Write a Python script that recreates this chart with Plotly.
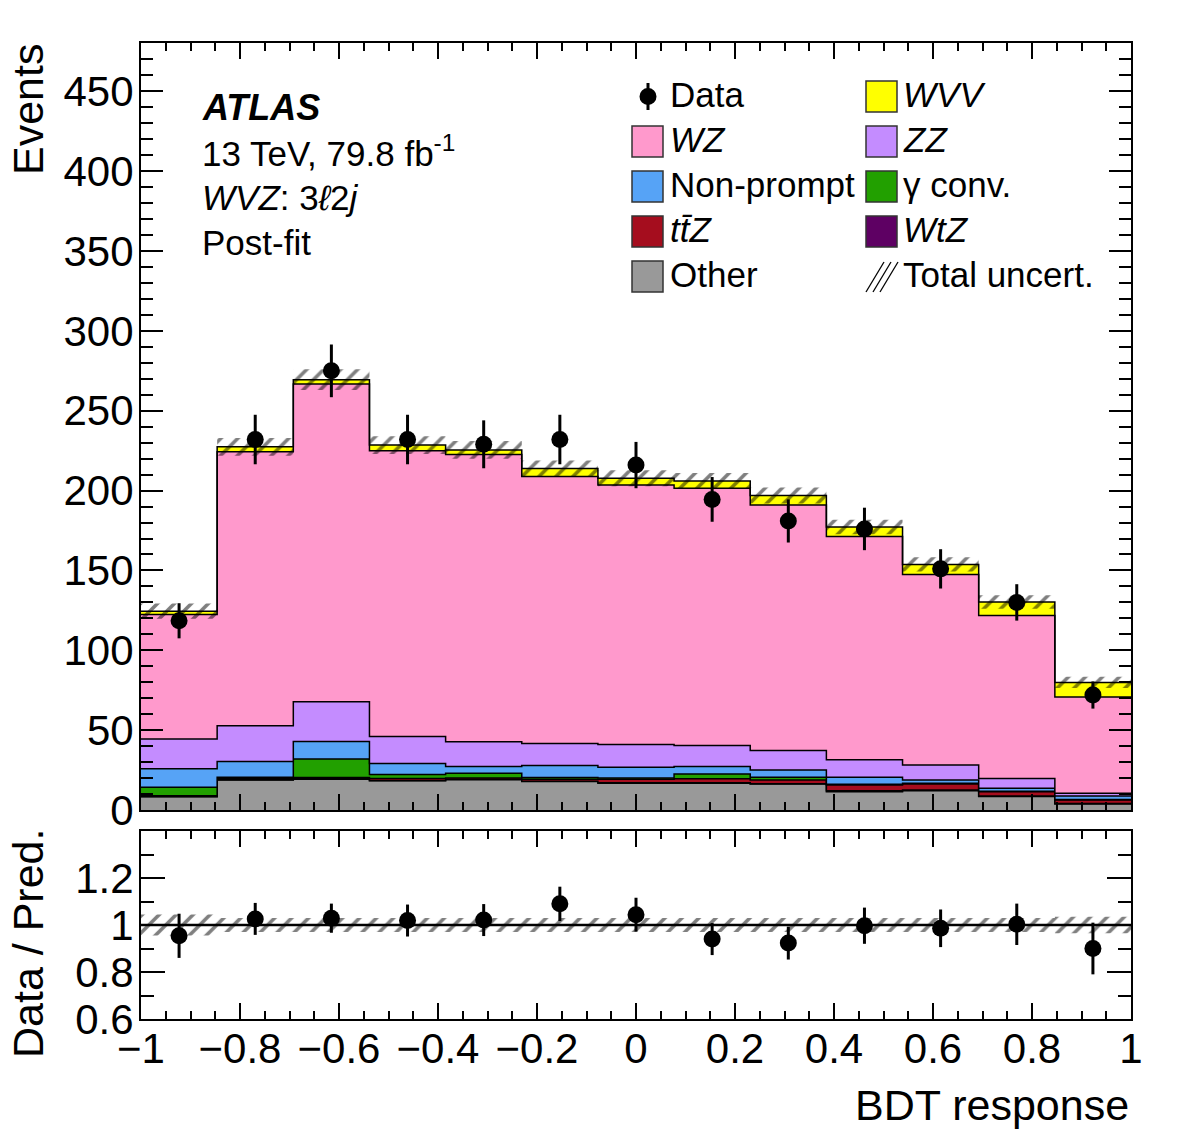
import numpy as np
import plotly.graph_objects as go

# ---------------- data ----------------
bin_edges = np.linspace(-1.0, 1.0, 14)
bin_centers = 0.5 * (bin_edges[:-1] + bin_edges[1:])

other     = [8.3, 18.8, 19.3, 18.3, 19.0, 17.8, 16.8, 16.8, 16.3, 11.5, 12.1, 8.4, 3.8]
wtz       = [0.2, 0.2, 0.2, 0.2, 0.2, 0.2, 0.2, 0.2, 0.2, 0.5, 0.5, 0.4, 0.3]
ttz       = [0.4, 0.8, 0.8, 1.2, 0.9, 1.3, 2.2, 2.5, 2.3, 3.7, 3.7, 2.7, 2.2]
gamma_conv= [5.3, 0.7, 11.7, 2.5, 2.9, 1.0, 0.8, 3.1, 1.7, 0.5, 0.4, 0.3, 0.2]
nonprompt = [11.7, 9.8, 10.9, 6.9, 4.2, 7.5, 6.8, 4.6, 4.6, 4.3, 2.1, 1.8, 2.3]
zz        = [18.5, 22.4, 24.9, 16.9, 15.5, 13.8, 14.2, 13.2, 12.2, 10.9, 9.4, 6.1, 1.7]
wz        = [78.0, 171.6, 199.0, 178.9, 179.9, 167.2, 162.5, 161.1, 153.7, 139.8, 119.3, 102.1, 60.2]
wvv       = [2.1, 3.1, 2.7, 3.6, 2.9, 5.0, 4.3, 4.5, 5.9, 6.0, 6.3, 8.5, 9.2]

total_unc = [4.8, 5.5, 6.5, 5.5, 5.5, 5.0, 5.0, 5.0, 5.0, 4.5, 4.5, 4.2, 3.5]

data      = [118.5, 232.0, 275.0, 232.0, 229.0, 232.0, 216.0, 194.5, 181.0, 176.0, 151.0, 130.0, 72.0]
data_err  = [11.0, 15.5, 16.5, 15.5, 15.0, 15.5, 14.5, 14.0, 13.5, 13.3, 12.3, 11.4, 8.5]

ratio     = [0.954, 1.026, 1.029, 1.019, 1.021, 1.090, 1.044, 0.940, 0.923, 0.997, 0.986, 1.003, 0.900]
ratio_err = [0.094, 0.068, 0.062, 0.068, 0.068, 0.073, 0.072, 0.068, 0.070, 0.077, 0.080, 0.088, 0.110]
ratio_unc = [0.045, 0.030, 0.030, 0.030, 0.030, 0.030, 0.030, 0.030, 0.030, 0.030, 0.030, 0.030, 0.035]

components = [
    ("Other", other, "#999999"),
    ("WtZ", wtz, "#5e0063"),
    ("ttZ", ttz, "#a50d1e"),
    ("gamma conv.", gamma_conv, "#22a000"),
    ("Non-prompt", nonprompt, "#56a3f6"),
    ("ZZ", zz, "#c48cff"),
    ("WZ", wz, "#ff99cc"),
    ("WVV", wvv, "#ffff00"),
]

y_tickvals = [0, 50, 100, 150, 200, 250, 300, 350, 400, 450]
r_tickvals = [0.6, 0.8, 1.0, 1.2]
r_ticktext = ["0.6", "0.8", "1", "1.2"]
x_tickvals = [-1, -0.8, -0.6, -0.4, -0.2, 0, 0.2, 0.4, 0.6, 0.8, 1]

FONT = "Liberation Sans, Arial, Helvetica, sans-serif"

# ---------------- geometry helpers (pixel -> paper) ----------------
L, R, T, B = 141, 1131, 43, 1019
def px(x):
    return (x - L) / (R - L)
def py(y):
    return (B - y) / (B - T)

def step(vals):
    v = list(vals)
    return v + [v[-1]]

HATCH = dict(shape="/", fgcolor="black", bgcolor="rgba(0,0,0,0)", size=12, solidity=0.3, fillmode="overlay")

fig = go.Figure()

# stacked step histograms
cum = np.zeros(len(bin_centers))
first = True
for name, vals, col in components:
    cum = cum + np.array(vals)
    fig.add_trace(go.Scatter(
        x=bin_edges, y=step(cum), mode="lines", line=dict(shape="hv", color="black", width=1.5),
        fill="tozeroy" if first else "tonexty", fillcolor=col, name=name,
        xaxis="x", yaxis="y", showlegend=False, hoverinfo="skip"))
    first = False

total = cum
unc = np.array(total_unc)
fig.add_trace(go.Scatter(
    x=bin_edges, y=step(total - unc), mode="lines", line=dict(shape="hv", width=0, color="rgba(0,0,0,0)"),
    xaxis="x", yaxis="y", showlegend=False, hoverinfo="skip"))
fig.add_trace(go.Scatter(
    x=bin_edges, y=step(total + unc), mode="lines", line=dict(shape="hv", width=0, color="rgba(0,0,0,0)"),
    fill="tonexty", fillcolor="rgba(0,0,0,0)", fillpattern=HATCH,
    xaxis="x", yaxis="y", showlegend=False, hoverinfo="skip"))

# data
fig.add_trace(go.Scatter(
    x=bin_centers, y=data, mode="markers",
    marker=dict(color="black", size=17),
    error_y=dict(type="data", array=data_err, color="black", thickness=3, width=0),
    xaxis="x", yaxis="y", showlegend=False, hoverinfo="skip"))

# ratio panel
runc = np.array(ratio_unc)
fig.add_trace(go.Scatter(
    x=bin_edges, y=step(1 - runc), mode="lines", line=dict(shape="hv", width=0, color="rgba(0,0,0,0)"),
    xaxis="x2", yaxis="y2", showlegend=False, hoverinfo="skip"))
fig.add_trace(go.Scatter(
    x=bin_edges, y=step(1 + runc), mode="lines", line=dict(shape="hv", width=0, color="rgba(0,0,0,0)"),
    fill="tonexty", fillcolor="rgba(0,0,0,0)", fillpattern=HATCH,
    xaxis="x2", yaxis="y2", showlegend=False, hoverinfo="skip"))
fig.add_trace(go.Scatter(
    x=[-1, 1], y=[1, 1], mode="lines", line=dict(color="black", width=2.5),
    xaxis="x2", yaxis="y2", showlegend=False, hoverinfo="skip"))
fig.add_trace(go.Scatter(
    x=bin_centers, y=ratio, mode="markers",
    marker=dict(color="black", size=17),
    error_y=dict(type="data", array=ratio_err, color="black", thickness=3, width=0),
    xaxis="x2", yaxis="y2", showlegend=False, hoverinfo="skip"))

tickfont = dict(family=FONT, size=42, color="black")
common_x = dict(range=[-1, 1], showgrid=False, zeroline=False, showline=True, linecolor="black", linewidth=2,
                mirror="allticks", ticks="inside", ticklen=16, tickwidth=1.5, tickcolor="black",
                tickvals=x_tickvals,
                minor=dict(ticks="inside", ticklen=8, dtick=0.05, tick0=0, tickwidth=1.5, tickcolor="black", showgrid=False))
fig.update_layout(
    width=1182, height=1140,
    margin=dict(l=L, r=1182 - R, t=T, b=1140 - B, autoexpand=False),
    paper_bgcolor="white", plot_bgcolor="white",
    font=dict(family=FONT, color="black"),
    xaxis=dict(common_x, domain=[0, 1], anchor="y", showticklabels=False),
    yaxis=dict(domain=[py(810), 1], range=[0, 480.3], anchor="x", showgrid=False, zeroline=False,
               showline=True, linecolor="black", linewidth=2, mirror="allticks",
               ticks="inside", ticklen=22, tickwidth=1.5, tickcolor="black",
               tickvals=y_tickvals, tickfont=tickfont, ticklabelstandoff=-3,
               minor=dict(ticks="inside", ticklen=12, dtick=10, tickwidth=1.5, tickcolor="black", showgrid=False)),
    xaxis2=dict(common_x, domain=[0, 1], anchor="y2", matches="x", tickfont=tickfont, ticklabelstandoff=-8),
    yaxis2=dict(domain=[0, py(831)], range=[0.6, 1.4], anchor="x2", showgrid=False, zeroline=False,
                showline=True, linecolor="black", linewidth=2, mirror="allticks",
                ticks="inside", ticklen=24, tickwidth=1.5, tickcolor="black",
                tickvals=r_tickvals, ticktext=r_ticktext, tickfont=tickfont, ticklabelstandoff=-3,
                minor=dict(ticks="inside", ticklen=13, dtick=0.1, tick0=0.6, tickwidth=1.5, tickcolor="black", showgrid=False)),
)

ann = []
def text(x, y, s, size=35, xanchor="left", yanchor="middle", angle=0):
    ann.append(dict(x=px(x), y=py(y), xref="paper", yref="paper", text=s, showarrow=False,
                    xanchor=xanchor, yanchor=yanchor, textangle=angle,
                    font=dict(family=FONT, size=size, color="black")))

# axis titles
text(28, 110, "Events", size=43, xanchor="center", angle=-90)
text(28, 944, "Data / Pred.", size=43, xanchor="center", angle=-90)
text(1131, 1105, "BDT response", size=43, xanchor="right")

# labels
text(200, 108, "<b><i>ATLAS</i></b>", size=36)
text(200, 151, "13 TeV, 79.8 fb<sup>-1</sup>", size=35)
text(200, 197, "<i>WVZ</i>: 3<i>ℓ</i>2<i>j</i>", size=35)
text(200, 242, "Post-fit", size=35)

# legend
shapes = []
rows = [96.5, 141.5, 186.5, 231.5, 276.5]
col1_box, col2_box = 632, 866
col1_txt, col2_txt = 668, 901
legend_entries = [
    (col2_box, col2_txt, rows[0], "#ffff00", "<i>WVV</i>"),
    (col1_box, col1_txt, rows[1], "#ff99cc", "<i>WZ</i>"),
    (col2_box, col2_txt, rows[1], "#c48cff", "<i>ZZ</i>"),
    (col1_box, col1_txt, rows[2], "#56a3f6", "Non-prompt"),
    (col2_box, col2_txt, rows[2], "#22a000", "γ conv."),
    (col1_box, col1_txt, rows[3], "#a50d1e", "<i>t</i><i>t\u0304</i><i>Z</i>"),
    (col2_box, col2_txt, rows[3], "#5e0063", "<i>WtZ</i>"),
    (col1_box, col1_txt, rows[4], "#999999", "Other"),
]
for bx, tx, ry, col, lab in legend_entries:
    shapes.append(dict(type="rect", xref="paper", yref="paper",
                       x0=px(bx), x1=px(bx + 31), y0=py(ry + 15.5), y1=py(ry - 15.5),
                       fillcolor=col, line=dict(color="#333333", width=1.5)))
    text(tx, ry - 2, lab, size=35)
# data legend marker
shapes.append(dict(type="line", xref="paper", yref="paper", x0=px(648), x1=px(648),
                   y0=py(83), y1=py(110), line=dict(color="black", width=3)))
shapes.append(dict(type="circle", xref="paper", yref="paper", x0=px(639.5), x1=px(656.5),
                   y0=py(105), y1=py(88), fillcolor="black", line=dict(color="black", width=0)))
text(col1_txt, rows[0] - 2, "Data", size=35)
# total uncert legend hatch
for k in range(3):
    x0 = 866 + k * 7
    shapes.append(dict(type="line", xref="paper", yref="paper",
                       x0=px(x0), y0=py(292), x1=px(x0 + 18), y1=py(262),
                       line=dict(color="black", width=1.3)))
text(col2_txt, rows[4] - 2, "Total uncert.", size=35)

fig.update_layout(annotations=ann, shapes=shapes)
fig.write_html("out.html")
